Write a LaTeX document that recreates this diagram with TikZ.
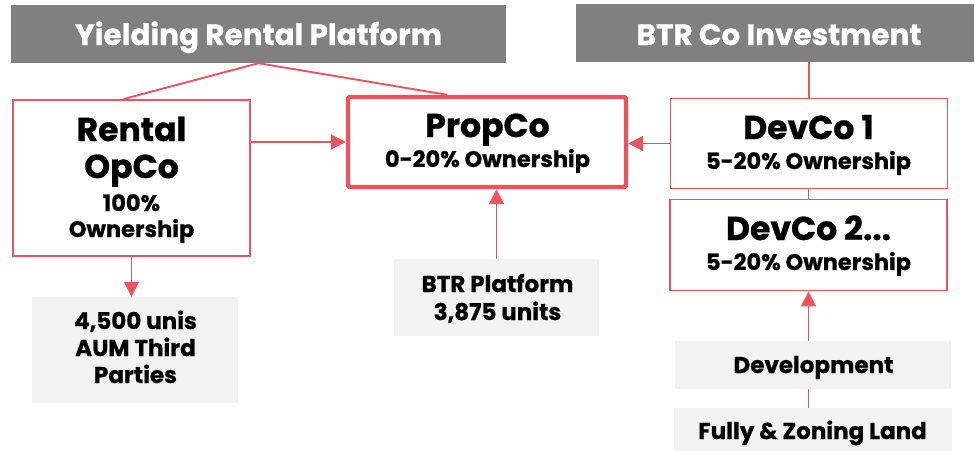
\documentclass[tikz,border=0pt]{standalone}
\usepackage{fontspec}
\setmainfont{Poppins}[BoldFeatures={FakeBold=0.8}]
\usetikzlibrary{arrows.meta,calc}
\definecolor{myred}{HTML}{E9545E}
\definecolor{titlegray}{HTML}{808080}
\definecolor{boxgray}{HTML}{F2F2F2}
\tikzset{
  titlebox/.style={fill=titlegray, inner sep=0pt},
  redbox/.style={draw=myred, line width=1.9pt, fill=white, inner sep=0pt},
  thickbox/.style={draw=myred, line width=4.4pt, fill=white, inner sep=0pt, rounded corners=1.5pt},
  greybox/.style={fill=boxgray, inner sep=0pt},
  titletxt/.style={anchor=base, inner sep=0pt, text=white, font=\bfseries\fontsize{29.5}{34}\selectfont},
  bigtxt/.style={anchor=base, inner sep=0pt, text=black, font=\bfseries\fontsize{33}{38}\selectfont},
  smalltxt/.style={anchor=base, inner sep=0pt, text=black, font=\bfseries\fontsize{22.5}{27}\selectfont},
  greytxt/.style={anchor=base, inner sep=0pt, text=black, font=\bfseries\fontsize{23}{27}\selectfont},
  link/.style={draw=myred, line width=1.9pt},
  arr/.style={link, -{Triangle[length=15pt,width=15pt]}},
}
\begin{document}
\begin{tikzpicture}[x=1pt,y=-1pt]
\useasboundingbox (0,0) rectangle (975,450);
% boxes
\node[titlebox, minimum width=495pt, minimum height=58pt] (t1) at (258.5,34) {};
\node[titlebox, minimum width=398pt, minimum height=58pt] (t2) at (775,33) {};
\node[redbox, minimum width=237pt, minimum height=156pt] (ropco) at (131.5,178) {};
\node[thickbox, minimum width=278pt, minimum height=90pt] (propco) at (487,142) {};
\node[redbox, minimum width=277pt, minimum height=90pt] (devco1) at (809,143.5) {};
\node[redbox, minimum width=277pt, minimum height=91pt] (devco2) at (808.5,245) {};
\node[greybox, minimum width=205pt, minimum height=77pt] (btr) at (496.5,297.5) {};
\node[greybox, minimum width=206pt, minimum height=106pt] (aum) at (135,350) {};
\node[greybox, minimum width=276pt, minimum height=48pt] (dev) at (813,365) {};
\node[greybox, minimum width=278pt, minimum height=44pt, anchor=north] (land) at (813,408) {};
% texts
\node[titletxt] (t1a) at (258.5,45) {Yielding Rental Platform};
\node[titletxt] (t2a) at (779,45) {BTR Co Investment};
\node[bigtxt] (ropa) at (131.5,141) {Rental};
\node[bigtxt] (ropb) at (131.5,178) {OpCo};
\node[smalltxt] (ropc) at (131.5,211) {100\%};
\node[smalltxt] (ropd) at (131.5,237) {Ownership};
\node[bigtxt] (propa) at (487.5,137) {PropCo};
\node[smalltxt] (propb) at (487.5,167) {0-20\% Ownership};
\node[bigtxt] (dc1a) at (808.5,139) {DevCo 1};
\node[smalltxt] (dc1b) at (808.5,169) {5-20\% Ownership};
\node[bigtxt] (dc2a) at (808.5,240) {DevCo 2...};
\node[smalltxt] (dc2b) at (808.5,270) {5-20\% Ownership};
\node[greytxt] (btra) at (497.5,292) {BTR Platform};
\node[greytxt] (btrb) at (497.5,320) {3,875 units};
\node[greytxt] (auma) at (135.5,329) {4,500 unis};
\node[greytxt] (aumb) at (135.5,356) {AUM Third};
\node[greytxt] (aumc) at (135.5,383) {Parties};
\node[greytxt] (deva) at (813.5,373) {Development};
\node[greytxt] (landa) at (812.5,439) {Fully \& Zoning Land};
% connectors
\draw[link] ([xshift=-8pt]ropco.north) -- (t1.south) -- ([xshift=-40pt]propco.north);
\draw[arr] (ropco.east |- propco.west) -- (propco.west);
\draw[arr] (devco1.west) -- (propco.east |- devco1.west);
\draw[arr] (ropco.south) -- (ropco.south |- aum.north);
\draw[arr] (btr.north) -- (btr.north |- propco.south);
\draw[link] (devco1.north |- t2.south) -- (devco1.north);
\draw[link] (devco1.south -| devco2.north) -- (devco2.north);
\draw[arr] (devco2.south |- dev.north) -- (devco2.south);
\draw[link] (devco2.south |- land.north) -- (devco2.south |- dev.south);
\end{tikzpicture}
\end{document}
